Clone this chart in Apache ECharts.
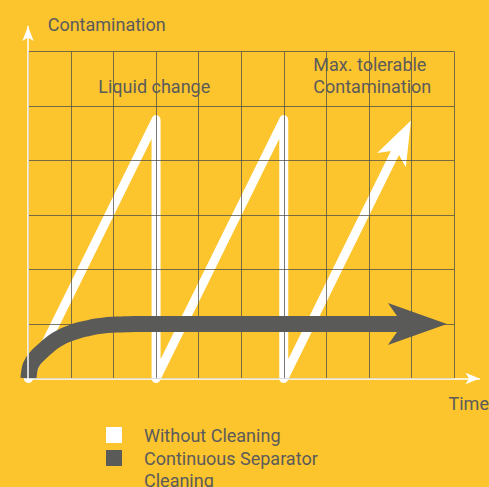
<!DOCTYPE html>
<html>
<head>
<meta charset="utf-8">
<script src="https://cdn.jsdelivr.net/npm/echarts@6/dist/echarts.min.js"></script>
<style>
html,body{margin:0;padding:0;background:#FCC42D;}
#chart{width:489px;height:487px;}
</style>
</head>
<body>
<div id="chart"></div>
<script>
// ---- data ----
const seriesNames = ['Without Cleaning', 'Continuous Separator Cleaning'];
// white sawtooth (contamination without cleaning); the last point sits inside the arrow head
const withoutCleaningX = [0, 3, 3, 6, 6, 8.76];
const withoutCleaningY = [0, 4.75, 0, 4.75, 0, 4.37];
// dark curve (continuous separator cleaning); the last point sits inside the arrow head
const separatorX = [0, 0.04, 0.11, 0.18, 0.27, 0.41, 0.58, 0.77, 0.98, 1.21, 1.38, 1.56, 1.75, 1.96, 2.15, 2.5, 9.14];
const separatorY = [0, 0.21, 0.32, 0.39, 0.46, 0.56, 0.67, 0.76, 0.83, 0.89, 0.92, 0.95, 0.97, 0.985, 0.99, 1, 1];
const gridColumns = 10;
const gridRows = 6;
const annotations = [
  {text: 'Contamination', x: 47.7, y: 24.5},
  {text: 'Liquid change', x: 98.3, y: 86.5},
  {text: 'Max. tolerable', x: 313.3, y: 64.5},
  {text: 'Contamination', x: 313.3, y: 86.5},
  {text: 'Time', x: 448.5, y: 403.5}
];

const TEXT = '#5b5b5b';
const DARK = '#5a5a58';
const WHITE = '#ffffff';
const FONT = 'Roboto, "Noto Sans", sans-serif';
const FS = 18;

function pairs(xs, ys) { return xs.map((x, i) => [x, ys[i]]); }
function lastSegment(xs, ys) {
  const n = xs.length;
  return [[xs[n - 2], ys[n - 2], xs[n - 1], ys[n - 1]]];
}

// arrow head drawn through the axes' scales: centred on the line end, oriented along the last segment
function arrowHead(len, width, color) {
  return function (params, api) {
    const p0 = api.coord([api.value(0), api.value(1)]);
    const p1 = api.coord([api.value(2), api.value(3)]);
    const dx = p1[0] - p0[0], dy = p1[1] - p0[1];
    const d = Math.hypot(dx, dy) || 1;
    const ux = dx / d, uy = dy / d, nx = -uy, ny = ux;
    const tip = [p1[0] + ux * len / 2, p1[1] + uy * len / 2];
    const back = [p1[0] - ux * len / 2, p1[1] - uy * len / 2];
    const notch = [p1[0] - ux * len / 4, p1[1] - uy * len / 4];
    const w1 = [back[0] + nx * width / 2, back[1] + ny * width / 2];
    const w2 = [back[0] - nx * width / 2, back[1] - ny * width / 2];
    return {type: 'polygon', shape: {points: [tip, w1, notch, w2]}, style: {fill: color}};
  };
}

const chart = echarts.init(document.getElementById('chart'), null, {renderer: 'svg'});
const hiddenAxisParts = {axisLabel: {show: false}, axisTick: {show: false}};
chart.setOption({
  animation: false,
  backgroundColor: '#FCC42D',
  grid: [
    {left: 28.4, right: 35, top: 51.5, bottom: 108.5},
    {left: 28, right: 9.5, top: 26.5, bottom: 108.5}
  ],
  xAxis: [
    Object.assign({type: 'value', gridIndex: 0, min: 0, max: gridColumns, interval: 1, z: 3,
      axisLine: {show: false},
      splitLine: {show: true, lineStyle: {color: 'rgba(70,70,70,0.72)', width: 1}}}, hiddenAxisParts),
    Object.assign({type: 'value', gridIndex: 1, min: 0, max: 1, z: 5,
      axisLine: {show: true, onZero: false, symbol: ['none', 'arrow'], symbolSize: [8.5, 14],
        lineStyle: {color: WHITE, width: 1.5}},
      splitLine: {show: false}}, hiddenAxisParts)
  ],
  yAxis: [
    Object.assign({type: 'value', gridIndex: 0, min: 0, max: gridRows, interval: 1, z: 3,
      axisLine: {show: false},
      splitLine: {show: true, lineStyle: {color: 'rgba(70,70,70,0.72)', width: 1}}}, hiddenAxisParts),
    Object.assign({type: 'value', gridIndex: 1, min: 0, max: 1, z: 5,
      axisLine: {show: true, onZero: false, symbol: ['none', 'arrow'], symbolSize: [8.5, 14.5],
        lineStyle: {color: WHITE, width: 1.5}},
      splitLine: {show: false}}, hiddenAxisParts)
  ],
  legend: [
    {
      data: [seriesNames[0]], left: 106, top: 425, padding: 0, icon: 'rect',
      itemWidth: 16, itemHeight: 16, selectedMode: false,
      itemStyle: {color: WHITE, borderWidth: 0},
      textStyle: {color: TEXT, fontSize: FS, fontFamily: FONT, lineHeight: 20, padding: [0, 0, 0, 17]}
    },
    {
      data: [seriesNames[1]], left: 106, top: 425, padding: 0, icon: 'rect',
      itemWidth: 16, itemHeight: 16, selectedMode: false,
      itemStyle: {color: DARK, borderWidth: 0},
      formatter: () => '\nContinuous Separator\nCleaning',
      textStyle: {color: TEXT, fontSize: FS, fontFamily: FONT, lineHeight: 22, padding: [0, 0, 0, 17]}
    }
  ],
  graphic: annotations.map(a => ({
    type: 'text', x: a.x, y: a.y, silent: true, z: 10,
    style: {text: a.text, fill: TEXT, fontSize: FS, fontFamily: FONT, verticalAlign: 'middle', align: 'left'}
  })),
  series: [
    {
      name: seriesNames[0], type: 'line', xAxisIndex: 0, yAxisIndex: 0, z: 2,
      data: pairs(withoutCleaningX, withoutCleaningY), silent: true, clip: true, symbol: 'none',
      itemStyle: {color: WHITE, borderWidth: 0},
      lineStyle: {color: WHITE, width: 9, join: 'round', cap: 'round'},
      emphasis: {disabled: true}
    },
    {
      name: 'withoutCleaningArrow', type: 'custom', xAxisIndex: 0, yAxisIndex: 0, z: 2,
      data: lastSegment(withoutCleaningX, withoutCleaningY), silent: true,
      renderItem: arrowHead(44, 32, WHITE)
    },
    {
      name: seriesNames[1], type: 'line', xAxisIndex: 0, yAxisIndex: 0, z: 4,
      data: pairs(separatorX, separatorY), silent: true, clip: true, symbol: 'none', smooth: 0.3,
      itemStyle: {color: DARK, borderWidth: 0},
      lineStyle: {color: DARK, width: 16, cap: 'butt'},
      emphasis: {disabled: true}
    },
    {
      name: 'separatorArrow', type: 'custom', xAxisIndex: 0, yAxisIndex: 0, z: 4,
      data: lastSegment(separatorX, separatorY), silent: true,
      renderItem: arrowHead(59, 42, DARK)
    }
  ]
});
</script>
</body>
</html>
